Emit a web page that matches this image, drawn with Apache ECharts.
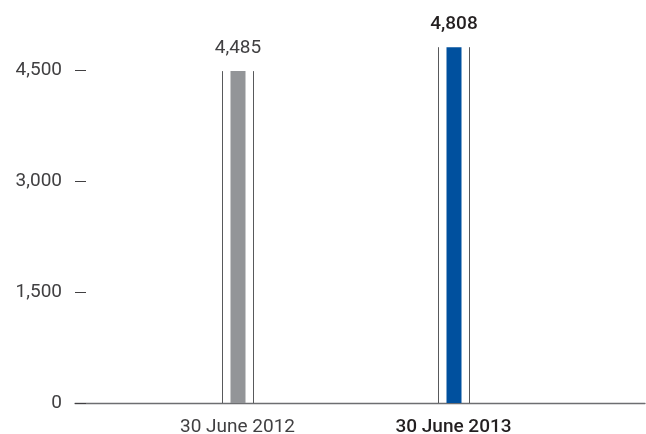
<!DOCTYPE html>
<html><head><meta charset="utf-8">
<script src="https://cdn.jsdelivr.net/npm/echarts@6/dist/echarts.min.js"></script>
<style>html,body{margin:0;padding:0;background:#fff}#c{width:646px;height:434px}</style>
</head><body><div id="c"></div>
<script>
const categories = ['30 June 2012', '30 June 2013'];
const values = [4485, 4808];
const yTicks = [0, 1500, 3000, 4500];
const barColors = ['#939598', '#00509e'];
const labelBold = [false, true];

const fmt = v => v.toLocaleString('en-US');
const FONT = 'Roboto';
const BOLD = '500';
const chart = echarts.init(document.getElementById('c'));
chart.setOption({
  animation: false,
  grid: [
    {left: 75, right: 1, top: 33, bottom: 31, outerBoundsMode: 'none', containLabel: false},
    {left: 129.5, right: 84.5, top: 33, bottom: 31, outerBoundsMode: 'none', containLabel: false}
  ],
  xAxis: [
    {gridIndex: 0, type: 'category', data: categories,
     axisLine: {show: true, lineStyle: {color: '#6d6e71', width: 1.3}},
     axisTick: {show: false}, axisLabel: {show: false}, splitLine: {show: false}},
    {gridIndex: 1, type: 'category',
     data: categories.map((c, i) => ({value: c, textStyle: {fontWeight: labelBold[i] ? BOLD : 'normal', color: labelBold[i] ? '#231f20' : '#414042'}})),
     axisLine: {show: false}, axisTick: {show: false},
     axisLabel: {margin: 15, fontSize: 19, fontFamily: FONT}}
  ],
  yAxis: [
    {gridIndex: 0, type: 'value', min: 0, max: 5000,
     axisLine: {show: false}, splitLine: {show: false},
     axisTick: {show: true, inside: true, length: 11, customValues: yTicks, lineStyle: {color: '#414042', width: 1}},
     axisLabel: {customValues: yTicks, margin: 13, fontSize: 19, fontFamily: FONT, color: '#414042', formatter: fmt}},
    {gridIndex: 1, type: 'value', min: 0, max: 5000, show: false}
  ],
  series: [{
    type: 'custom', xAxisIndex: 1, yAxisIndex: 1,
    data: values.map((v, i) => [i, v]),
    renderItem: function (params, api) {
      const i = api.value(0), v = api.value(1);
      const top = api.coord([i, v]);
      const base = api.coord([i, 0]);
      const cx = Math.round(top[0]);
      const h = base[1] - top[1];
      return {type: 'group', children: [
        {type: 'rect', shape: {x: cx - 7.5, y: top[1], width: 15, height: h}, style: {fill: barColors[i]}},
        {type: 'line', shape: {x1: cx - 15.5, y1: top[1], x2: cx - 15.5, y2: base[1]}, style: {stroke: '#58595b', lineWidth: 1}},
        {type: 'line', shape: {x1: cx + 15.5, y1: top[1], x2: cx + 15.5, y2: base[1]}, style: {stroke: '#58595b', lineWidth: 1}},
        {type: 'text', x: cx, y: top[1] - 23, style: {text: fmt(v), x: 0, y: 0, align: 'center', verticalAlign: 'middle',
          font: (labelBold[i] ? BOLD + ' ' : '') + '19px "' + FONT + '"', fill: labelBold[i] ? '#231f20' : '#414042'}}
      ]};
    }
  }]
});
</script></body></html>
